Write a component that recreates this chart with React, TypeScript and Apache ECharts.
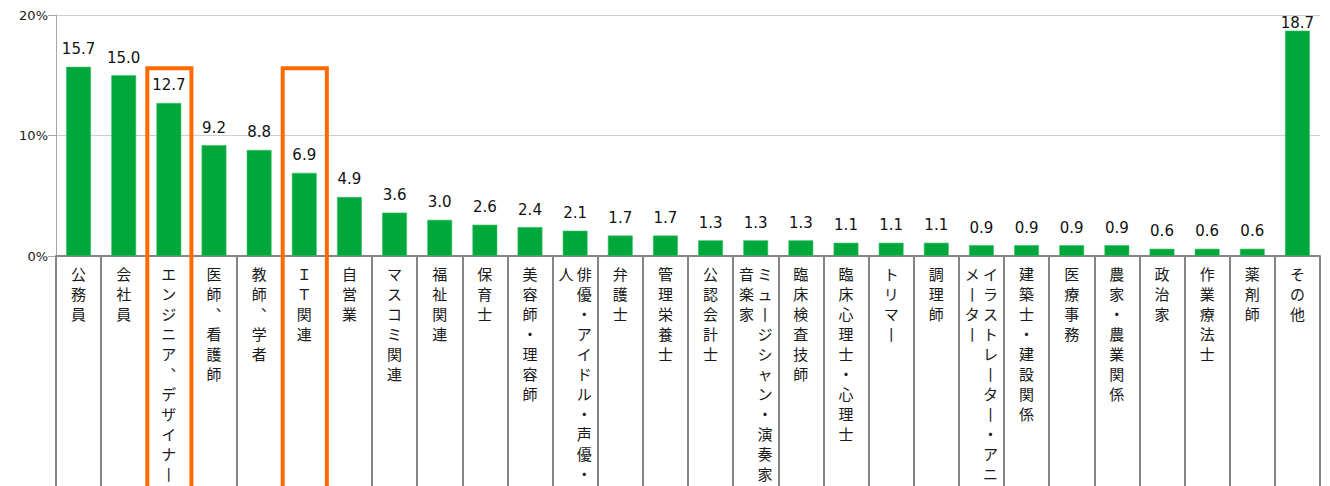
import React, { useEffect, useRef } from "react";
import * as echarts from "echarts";

const categories: string[] = [
  "公務員",
  "会社員",
  "エンジニア、デザイナー",
  "医師、看護師",
  "教師、学者",
  "ＩＴ関連",
  "自営業",
  "マスコミ関連",
  "福祉関連",
  "保育士",
  "美容師・理容師",
  "俳優・アイドル・声優・芸人",
  "弁護士",
  "管理栄養士",
  "公認会計士",
  "ミュージシャン・演奏家・音楽家",
  "臨床検査技師",
  "臨床心理士・心理士",
  "トリマー",
  "調理師",
  "イラストレーター・アニメーター",
  "建築士・建設関係",
  "医療事務",
  "農家・農業関係",
  "政治家",
  "作業療法士",
  "薬剤師",
  "その他",
];

const values: number[] = [
  15.7, 15.0, 12.7, 9.2, 8.8, 6.9, 4.9, 3.6, 3.0, 2.6, 2.4, 2.1, 1.7, 1.7, 1.3,
  1.3, 1.3, 1.1, 1.1, 1.1, 0.9, 0.9, 0.9, 0.9, 0.6, 0.6, 0.6, 18.7,
];

const yTicks: number[] = [0, 10, 20];

// categories outlined in orange
const highlighted: number[] = [2, 5];

// column break positions for labels written in two vertical columns
const columnBreaks: Record<string, number> = {
  "俳優・アイドル・声優・芸人": 12,
  "ミュージシャン・演奏家・音楽家": 12,
  "イラストレーター・アニメーター": 11,
};

const toVertical = (ch: string) => (ch === "ー" ? "丨" : ch === "、" ? "︑" : ch);

function verticalLabel(name: string): string {
  const chars = Array.from(name).map(toVertical);
  const br = columnBreaks[name];
  if (!br) return chars.join("\n");
  const right = chars.slice(0, br);
  const left = chars.slice(br);
  return right.map((c, i) => (left[i] ?? "　") + " " + c).join("\n");
}

export default function App() {
  const ref = useRef<HTMLDivElement>(null);

  useEffect(() => {
    document.body.style.margin = "0";
    if (!ref.current) return;
    const chart = echarts.init(ref.current, null, { renderer: "svg" });
    const numFont = "'DejaVu Sans', Verdana, sans-serif";
    const jpFont = "'Noto Sans CJK JP', sans-serif";

    chart.setOption({
      animation: false,
      grid: {
        left: 56,
        right: 10,
        top: 15,
        bottom: 230,
        containLabel: false,
        outerBoundsMode: "none",
      },
      xAxis: {
        type: "category",
        data: categories,
        offset: 4,
        axisLine: { show: true, lineStyle: { color: "#858585", width: 2 } },
        axisTick: {
          show: true,
          interval: 0,
          alignWithLabel: false,
          length: 240,
          lineStyle: { color: "#858585", width: 2 },
        },
        axisLabel: {
          interval: 0,
          margin: 3,
          fontFamily: jpFont,
          fontSize: 15,
          lineHeight: 20,
          color: "#1a1a1a",
          verticalAlign: "top",
          hideOverlap: false,
          formatter: (v: string) => verticalLabel(v),
        },
      },
      yAxis: {
        type: "value",
        min: 0,
        max: 20,
        interval: 10,
        axisLine: { show: true, lineStyle: { color: "#a6a6a6", width: 1 } },
        axisTick: { show: true, length: 8, lineStyle: { color: "#a6a6a6" } },
        splitLine: { show: true, lineStyle: { color: "#cfcfcf", width: 1 } },
        axisLabel: {
          margin: 8,
          fontFamily: numFont,
          fontSize: 13,
          color: "#1a1a1a",
          formatter: (v: number) => (yTicks.includes(v) ? v + "%" : ""),
        },
      },
      series: [
        {
          type: "bar",
          barWidth: "55%",
          data: values.map((v, i) =>
            i === values.length - 1
              ? { value: v, label: { distance: 0 } }
              : { value: v }
          ),
          itemStyle: { color: "#00A83C", borderColor: "#3cc06a", borderWidth: 0.6 },
          label: {
            show: true,
            position: "top",
            distance: 10,
            fontFamily: numFont,
            fontSize: 15,
            color: "#111",
            formatter: (p: any) => Number(p.value).toFixed(1),
          },
        },
      ],
    });

    const c0 = chart.convertToPixel({ xAxisIndex: 0 }, 0) as number;
    const c1 = chart.convertToPixel({ xAxisIndex: 0 }, 1) as number;
    const half = (c1 - c0) / 2;
    const topY = (chart.convertToPixel({ yAxisIndex: 0 }, values[0]) as number) + 1.5;
    chart.setOption({
      graphic: highlighted.map((idx) => {
        const cx = chart.convertToPixel({ xAxisIndex: 0 }, idx) as number;
        return {
          type: "rect",
          z: 100,
          shape: { x: cx - half + 1, y: topY, width: 2 * half - 1, height: 500 },
          style: { fill: "none", stroke: "#FF6A00", lineWidth: 4 },
        };
      }),
    });

    return () => chart.dispose();
  }, []);

  return (
    <div
      ref={ref}
      style={{ position: "absolute", left: 0, top: 0, width: 1330, height: 486 }}
    />
  );
}
